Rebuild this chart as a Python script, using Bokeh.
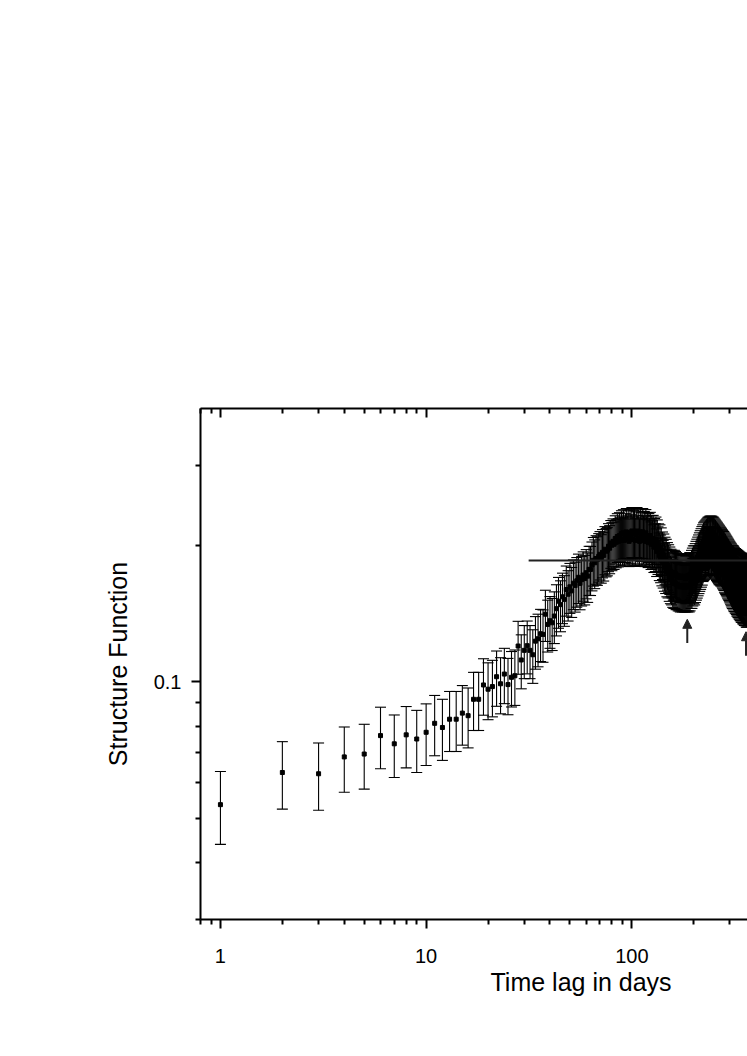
from bokeh.plotting import figure
from bokeh.models import (LogAxis, FixedTicker, CustomJSTickFormatter, Range1d, Whisker,
                          TeeHead, ColumnDataSource, Title, Arrow, NormalHead)
from bokeh.embed import file_html
from bokeh.resources import INLINE

# ---------------- data ----------------
sf_values = [
    0.0537, 0.0632, 0.0628, 0.0684, 0.0694, 0.0762, 0.0731, 0.0765, 0.0749, 0.0775,
    0.0811, 0.0794, 0.0828, 0.0828, 0.0854, 0.0843, 0.0916, 0.0916, 0.0985, 0.0964,
    0.0977, 0.1027, 0.0991, 0.1041, 0.0987, 0.1024, 0.1032, 0.120, 0.1118, 0.1174,
    0.1202, 0.1174, 0.1148, 0.123, 0.1245, 0.1277, 0.1273, 0.141, 0.1339, 0.1364,
    0.135, 0.1397, 0.145, 0.1506, 0.148, 0.154, 0.152, 0.1598, 0.156, 0.162,
    0.1587, 0.165, 0.163, 0.167, 0.170, 0.1648, 0.168, 0.172, 0.1689, 0.174,
    0.171, 0.177, 0.1769, 0.181, 0.1853, 0.183, 0.187, 0.186, 0.189, 0.191,
    0.188, 0.193, 0.190, 0.196, 0.194, 0.195, 0.199, 0.197, 0.2023, 0.200,
    0.204, 0.201, 0.207, 0.203, 0.209, 0.204, 0.210, 0.205, 0.212, 0.206,
    0.213, 0.205, 0.209, 0.214, 0.207, 0.212, 0.204, 0.213, 0.208, 0.215,
    0.206, 0.212, 0.214, 0.205, 0.211, 0.215, 0.207, 0.213, 0.204, 0.214,
    0.210, 0.205, 0.214, 0.207, 0.211, 0.204, 0.213, 0.206, 0.210, 0.203,
    0.209, 0.204, 0.210, 0.201, 0.207, 0.202, 0.207, 0.198, 0.204, 0.199,
    0.206, 0.194, 0.203, 0.196, 0.199, 0.190, 0.198, 0.188, 0.195, 0.185,
    0.191, 0.183, 0.189, 0.180, 0.186, 0.178, 0.184, 0.175, 0.181, 0.174,
    0.179, 0.171, 0.177, 0.169, 0.175, 0.168, 0.174, 0.166, 0.172, 0.165,
    0.174, 0.165, 0.173, 0.164, 0.172, 0.164, 0.171, 0.163, 0.171, 0.163,
    0.170, 0.162, 0.170, 0.163, 0.171, 0.162, 0.170, 0.163, 0.170, 0.162,
    0.170, 0.162, 0.169, 0.163, 0.171, 0.162, 0.170, 0.163, 0.171, 0.162,
    0.172, 0.163, 0.172, 0.165, 0.174, 0.165, 0.176, 0.167, 0.178, 0.169,
    0.178, 0.168, 0.180, 0.170, 0.182, 0.172, 0.184, 0.174, 0.186, 0.176,
    0.188, 0.178, 0.190, 0.180, 0.192, 0.182, 0.194, 0.184, 0.196, 0.186,
    0.198, 0.189, 0.200, 0.190, 0.201, 0.191, 0.202, 0.192, 0.203, 0.193,
    0.204, 0.194, 0.205, 0.195, 0.206, 0.195, 0.206, 0.196, 0.207, 0.196,
    0.207, 0.196, 0.207, 0.195, 0.207, 0.196, 0.206, 0.194, 0.206, 0.195,
    0.205, 0.193, 0.204, 0.192, 0.203, 0.191, 0.202, 0.190, 0.201, 0.189,
    0.200, 0.188, 0.199, 0.187, 0.198, 0.186, 0.197, 0.186, 0.196, 0.185,
    0.195, 0.185, 0.194, 0.184, 0.193, 0.183, 0.192, 0.182, 0.191, 0.181,
    0.190, 0.180, 0.189, 0.179, 0.188, 0.178, 0.187, 0.177, 0.186, 0.176,
    0.185, 0.175, 0.184, 0.174, 0.183, 0.173, 0.182, 0.172, 0.181, 0.171,
    0.180, 0.170, 0.179, 0.169, 0.178, 0.168, 0.177, 0.167, 0.176, 0.167,
    0.176, 0.166, 0.175, 0.165, 0.174, 0.165, 0.173, 0.164, 0.173, 0.164,
    0.172, 0.163, 0.172, 0.162, 0.171, 0.162, 0.171, 0.161, 0.170, 0.161,
    0.170, 0.160, 0.169, 0.160, 0.169, 0.159, 0.168, 0.159, 0.168, 0.158,
    0.168, 0.158, 0.167, 0.158, 0.167, 0.157, 0.167, 0.157, 0.166, 0.157,
    0.166, 0.156, 0.166, 0.156, 0.165, 0.156, 0.165, 0.156, 0.165, 0.155,
    0.165, 0.155, 0.165, 0.156, 0.165, 0.156, 0.166, 0.156, 0.166, 0.157,
]
sf_errors = [
    0.0098, 0.0107, 0.0106, 0.0112, 0.0113, 0.0118, 0.0115, 0.0118, 0.0117, 0.0120,
    0.0123, 0.0122, 0.0125, 0.0125, 0.0128, 0.0127, 0.0134, 0.0134, 0.0140, 0.0138,
    0.0139, 0.0143, 0.0140, 0.0145, 0.0140, 0.0143, 0.0144, 0.0160, 0.0152, 0.0157,
    0.0160, 0.0157, 0.0155, 0.0163, 0.0165, 0.0168, 0.0168, 0.0182, 0.0175, 0.0178,
    0.0177, 0.0182, 0.0187, 0.0193, 0.0190, 0.0196, 0.0194, 0.0202, 0.0198, 0.0204,
    0.0200, 0.0207, 0.0205, 0.0209, 0.0212, 0.0206, 0.0210, 0.0214, 0.0211, 0.0216,
    0.0213, 0.0219, 0.0219, 0.0223, 0.0227, 0.0225, 0.0229, 0.0228, 0.0231, 0.0233,
    0.0230, 0.0235, 0.0232, 0.0238, 0.0236, 0.0237, 0.0241, 0.0239, 0.0244, 0.0242,
    0.0246, 0.0241, 0.0252, 0.0246, 0.0257, 0.0248, 0.0259, 0.0249, 0.0262, 0.0250,
    0.0265, 0.0248, 0.0257, 0.0268, 0.0251, 0.0262, 0.0245, 0.0266, 0.0254, 0.0271,
    0.0250, 0.0263, 0.0269, 0.0246, 0.0260, 0.0272, 0.0252, 0.0265, 0.0244, 0.0269,
    0.0259, 0.0247, 0.0270, 0.0253, 0.0263, 0.0245, 0.0266, 0.0251, 0.0260, 0.0244,
    0.0258, 0.0248, 0.0263, 0.0241, 0.0254, 0.0245, 0.0257, 0.0238, 0.0250, 0.0240,
    0.0247, 0.0233, 0.0244, 0.0235, 0.0239, 0.0228, 0.0238, 0.0226, 0.0234, 0.0222,
    0.0229, 0.0220, 0.0227, 0.0216, 0.0223, 0.0214, 0.0221, 0.0210, 0.0217, 0.0209,
    0.0215, 0.0205, 0.0212, 0.0203, 0.0210, 0.0202, 0.0209, 0.0200, 0.0206, 0.0198,
    0.0209, 0.0198, 0.0208, 0.0197, 0.0206, 0.0197, 0.0205, 0.0196, 0.0205, 0.0196,
    0.0204, 0.0194, 0.0204, 0.0196, 0.0205, 0.0194, 0.0204, 0.0196, 0.0204, 0.0194,
    0.0204, 0.0194, 0.0203, 0.0196, 0.0205, 0.0194, 0.0204, 0.0196, 0.0205, 0.0194,
    0.0206, 0.0196, 0.0206, 0.0198, 0.0209, 0.0198, 0.0211, 0.0200, 0.0214, 0.0203,
    0.0214, 0.0202, 0.0216, 0.0204, 0.0220, 0.0206, 0.0222, 0.0210, 0.0224, 0.0212,
    0.0227, 0.0215, 0.0230, 0.0217, 0.0233, 0.0221, 0.0235, 0.0223, 0.0238, 0.0226,
    0.0238, 0.0226, 0.0240, 0.0227, 0.0241, 0.0228, 0.0242, 0.0229, 0.0243, 0.0230,
    0.0244, 0.0231, 0.0245, 0.0232, 0.0246, 0.0232, 0.0246, 0.0233, 0.0247, 0.0233,
    0.0247, 0.0233, 0.0247, 0.0232, 0.0247, 0.0233, 0.0246, 0.0231, 0.0246, 0.0232,
    0.0245, 0.0230, 0.0244, 0.0229, 0.0243, 0.0228, 0.0242, 0.0227, 0.0241, 0.0226,
    0.0240, 0.0225, 0.0239, 0.0224, 0.0238, 0.0223, 0.0237, 0.0223, 0.0236, 0.0222,
    0.0236, 0.0222, 0.0235, 0.0221, 0.0235, 0.0221, 0.0234, 0.0220, 0.0234, 0.0220,
    0.0238, 0.0224, 0.0237, 0.0223, 0.0236, 0.0222, 0.0235, 0.0221, 0.0234, 0.0220,
    0.0234, 0.0220, 0.0233, 0.0219, 0.0232, 0.0218, 0.0232, 0.0218, 0.0231, 0.0217,
    0.0231, 0.0217, 0.0232, 0.0218, 0.0233, 0.0218, 0.0233, 0.0219, 0.0234, 0.0220,
    0.0235, 0.0220, 0.0235, 0.0221, 0.0236, 0.0221, 0.0236, 0.0222, 0.0237, 0.0222,
    0.0237, 0.0222, 0.0238, 0.0223, 0.0238, 0.0223, 0.0239, 0.0224, 0.0239, 0.0224,
    0.0240, 0.0224, 0.0240, 0.0225, 0.0241, 0.0225, 0.0241, 0.0226, 0.0242, 0.0226,
    0.0242, 0.0226, 0.0243, 0.0227, 0.0243, 0.0227, 0.0244, 0.0228, 0.0244, 0.0228,
    0.0244, 0.0228, 0.0245, 0.0229, 0.0245, 0.0229, 0.0246, 0.0229, 0.0246, 0.0230,
    0.0246, 0.0230, 0.0247, 0.0230, 0.0247, 0.0231, 0.0248, 0.0231, 0.0248, 0.0232,
]
time_lags = list(range(1, len(sf_values) + 1))

noise_level = 0.185          # horizontal reference line
noise_start = 31.5
noise_end = 2000

arrow_lags = [186, 359]
arrow_tails = [0.1218, 0.1142]
arrow_tips = [0.1374, 0.1290]

x_major = [1, 10, 100, 1000]
x_minor = [0.8, 0.9] + [m * d for d in (1, 10, 100) for m in range(2, 10)]
y_major = [0.1]
y_minor = [0.03, 0.04, 0.05, 0.06, 0.07, 0.08, 0.09, 0.2, 0.3]

x_label = "Time lag in days"
y_label = "Structure Function"

FONT = "Liberation Sans"

# ---------------- figure ----------------
p = figure(width=747, height=1040, x_axis_type="log", y_axis_type="log",
           x_range=Range1d(0.8, 365), y_range=Range1d(0.03, 0.4),
           output_backend="svg", toolbar_location=None,
           min_border_left=200, min_border_top=408, min_border_bottom=121,
           min_border_right=0)
p.outline_line_color = None
p.xgrid.visible = False
p.ygrid.visible = False
p.background_fill_color = "white"
p.border_fill_color = "white"

fmt = CustomJSTickFormatter(code="return tick.toString();")
blank_fmt = CustomJSTickFormatter(code="return '';")

def style_axis(ax, tin, tout):
    ax.axis_line_width = 2
    ax.axis_line_color = "black"
    ax.major_tick_line_width = 2
    ax.minor_tick_line_width = 2
    ax.major_tick_line_color = "black"
    ax.minor_tick_line_color = "black"
    ax.major_tick_in = tin[0]
    ax.major_tick_out = tout[0]
    ax.minor_tick_in = tin[1]
    ax.minor_tick_out = tout[1]
    ax.major_label_text_font = FONT
    ax.major_label_text_font_size = "20px"
    ax.major_label_text_color = "black"

xax = p.xaxis[0]
xax.ticker = FixedTicker(ticks=x_major, minor_ticks=x_minor)
xax.formatter = fmt
style_axis(xax, (0, 0), (9, 5))
xax.major_label_standoff = 20

yax = p.yaxis[0]
yax.ticker = FixedTicker(ticks=y_major, minor_ticks=y_minor)
yax.formatter = fmt
style_axis(yax, (0, 0), (9, 5))
yax.major_label_standoff = 10
yax.axis_label = y_label
yax.axis_label_text_font = FONT
yax.axis_label_text_font_size = "25px"
yax.axis_label_text_font_style = "normal"
yax.axis_label_text_color = "black"
yax.axis_label_standoff = 19

top = LogAxis(ticker=FixedTicker(ticks=x_major, minor_ticks=x_minor), formatter=blank_fmt)
style_axis(top, (9, 5), (0, 0))
p.add_layout(top, "above")

# x-axis label drawn as a title below the axis, shifted right like the reference
p.add_layout(Title(text=x_label, align="left", offset=290, standoff=0,
                   text_font=FONT, text_font_size="25px", text_font_style="normal",
                   text_color="black"), "below")

# ---------------- data marks ----------------
src = ColumnDataSource(dict(
    lag=time_lags, sf=sf_values,
    upper=[v + e for v, e in zip(sf_values, sf_errors)],
    lower=[v - e for v, e in zip(sf_values, sf_errors)],
))

whisk = Whisker(source=src, base="lag", upper="upper", lower="lower",
                line_color="black", line_width=1.1,
                upper_head=TeeHead(size=11, line_color="black", line_width=1.1),
                lower_head=TeeHead(size=11, line_color="black", line_width=1.1),
                level="underlay")
p.add_layout(whisk)

p.scatter("lag", "sf", source=src, marker="square", size=4,
          fill_color="black", line_color="black")

p.segment(x0=[noise_start], y0=[noise_level], x1=[noise_end], y1=[noise_level],
          line_color="#222222", line_width=2)

for lag, t0, t1 in zip(arrow_lags, arrow_tails, arrow_tips):
    p.add_layout(Arrow(x_start=lag, y_start=t0, x_end=lag, y_end=t1,
                       line_color="#222222", line_width=2,
                       end=NormalHead(size=9, fill_color="#222222", line_color="#222222")))

open("out.html", "w").write(file_html(p, INLINE))
